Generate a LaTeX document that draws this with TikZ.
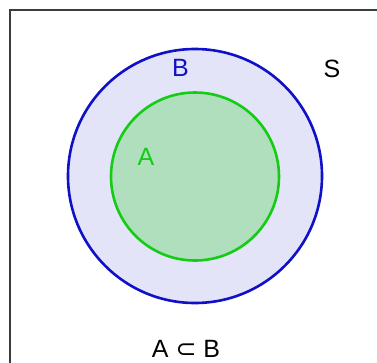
\documentclass[tikz,border=0pt]{standalone}
\usepackage{fontspec}
\setmainfont{Liberation Sans}
\newfontfamily\dejavu{DejaVu Sans}
\definecolor{outerfill}{RGB}{228,228,248}
\definecolor{outerline}{RGB}{16,16,200}
\definecolor{innerfill}{RGB}{176,223,190}
\definecolor{innerline}{RGB}{20,204,20}
\definecolor{frameline}{RGB}{60,60,60}
\tikzset{
  lbl/.style={inner sep=0pt, font=\fontsize{25}{30}\selectfont},
}
\begin{document}
\begin{tikzpicture}[x=1pt,y=-1pt]
\useasboundingbox (0,0) rectangle (377,362);
\begin{scope}
\clip (0,0) rectangle (377,362);
\draw[frameline, line width=1.4pt] (10,370) -- (10,10) -- (385,10);
\end{scope}
\draw[outerline, fill=outerfill, line width=2.6pt] (195,176) circle[radius=127];
\draw[innerline, fill=innerfill, line width=2.6pt] (195,176.5) circle[radius=84];
\node[lbl, text=outerline] (B) at (180.5,68) {B};
\node[lbl, text=black] (S) at (332,69) {S};
\node[lbl, text=innerline] (A) at (146,156.5) {A};
\node[lbl, text=black, anchor=base] (rel) at (186,357) {A {\dejavu ⊂} B};
\end{tikzpicture}
\end{document}
